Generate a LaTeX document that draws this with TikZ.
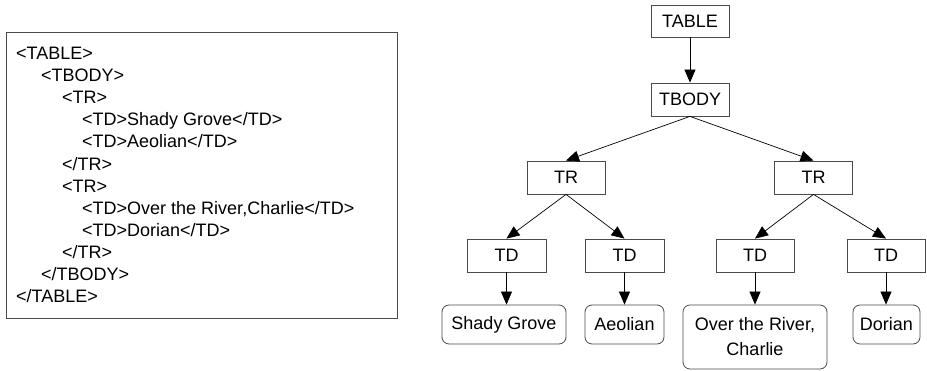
\documentclass[tikz,border=0pt]{standalone}
\usepackage{fontspec}
\setmainfont{Liberation Sans}
\usetikzlibrary{arrows.meta}
\definecolor{boxgray}{HTML}{4A4A4A}
\tikzset{
  tnode/.style={draw=boxgray, line width=0.8pt, minimum width=78pt, minimum height=33pt, inner sep=0pt},
  leaf/.style={draw=boxgray, line width=0.8pt, rounded corners=7pt, minimum height=39pt, inner sep=0pt},
  arr/.style={-{Triangle[length=13pt,width=11pt]}, line width=0.7pt, black},
  codeline/.style={anchor=base west, inner sep=0pt},
  codebox/.style={draw=boxgray, line width=0.9pt, inner sep=0pt}
}
\begin{document}
\begin{tikzpicture}[x=1pt,y=-1pt,font=\fontsize{18}{22}\selectfont]
\useasboundingbox (0,0) rectangle (927,370);
% code box
\node[codebox, minimum width=391pt, minimum height=286pt] (code) at (201.5,175) {};
\node[codeline] (c1)  at (16,59.5)  {<TABLE>};
\node[codeline] (c2)  at (41,81.6)  {<TBODY>};
\node[codeline] (c3)  at (62,103.7) {<TR>};
\node[codeline] (c4)  at (82,125.8) {<TD>Shady Grove</TD>};
\node[codeline] (c5)  at (82,147.9) {<TD>Aeolian</TD>};
\node[codeline] (c6)  at (62,170.0) {</TR>};
\node[codeline] (c7)  at (62,192.1) {<TR>};
\node[codeline] (c8)  at (82,214.2) {<TD>Over the River,Charlie</TD>};
\node[codeline] (c9)  at (82,236.3) {<TD>Dorian</TD>};
\node[codeline] (c10) at (62,258.4) {</TR>};
\node[codeline] (c11) at (41,280.5) {</TBODY>};
\node[codeline] (c12) at (16,302.6) {</TABLE>};
% tree
\node[tnode, minimum height=32pt] (table) at (690,21) {TABLE};
\node[tnode] (tbody) at (690,99.5) {TBODY};
\node[tnode] (tr1) at (566,177.5) {TR};
\node[tnode] (tr2) at (813.5,177.5) {TR};
\node[tnode, minimum width=79pt] (td1) at (506.5,255.5) {TD};
\node[tnode, minimum width=79pt] (td2) at (624.5,255.5) {TD};
\node[tnode, minimum width=78pt] (td3) at (755,255.5) {TD};
\node[tnode, minimum width=78pt] (td4) at (886,255.5) {TD};
\node[leaf, minimum width=124pt] (sg) at (504,324.5) {Shady Grove};
\node[leaf, minimum width=79pt] (ae) at (624.5,324.5) {Aeolian};
\node[leaf, minimum width=144pt, minimum height=64pt, align=center, font=\fontsize{18}{25}\selectfont] (ov) at (755,337) {Over the River,\\Charlie};
\node[leaf, minimum width=67pt] (do) at (886.5,324.5) {Dorian};
% connectors
\draw[arr] (table) -- (tbody);
\draw[arr] (tbody.south) -- (tr1.north);
\draw[arr] (tbody.south) -- (tr2.north);
\draw[arr] (tr1.south) -- (td1.north);
\draw[arr] (tr1.south) -- (td2.north);
\draw[arr] (tr2.south) -- (td3.north);
\draw[arr] (tr2.south) -- (td4.north);
\draw[arr] (td1.south) -- (td1.south |- sg.north);
\draw[arr] (td2.south) -- (td2.south |- ae.north);
\draw[arr] (td3.south) -- (td3.south |- ov.north);
\draw[arr] (td4.south) -- (td4.south |- do.north);
\end{tikzpicture}
\end{document}
